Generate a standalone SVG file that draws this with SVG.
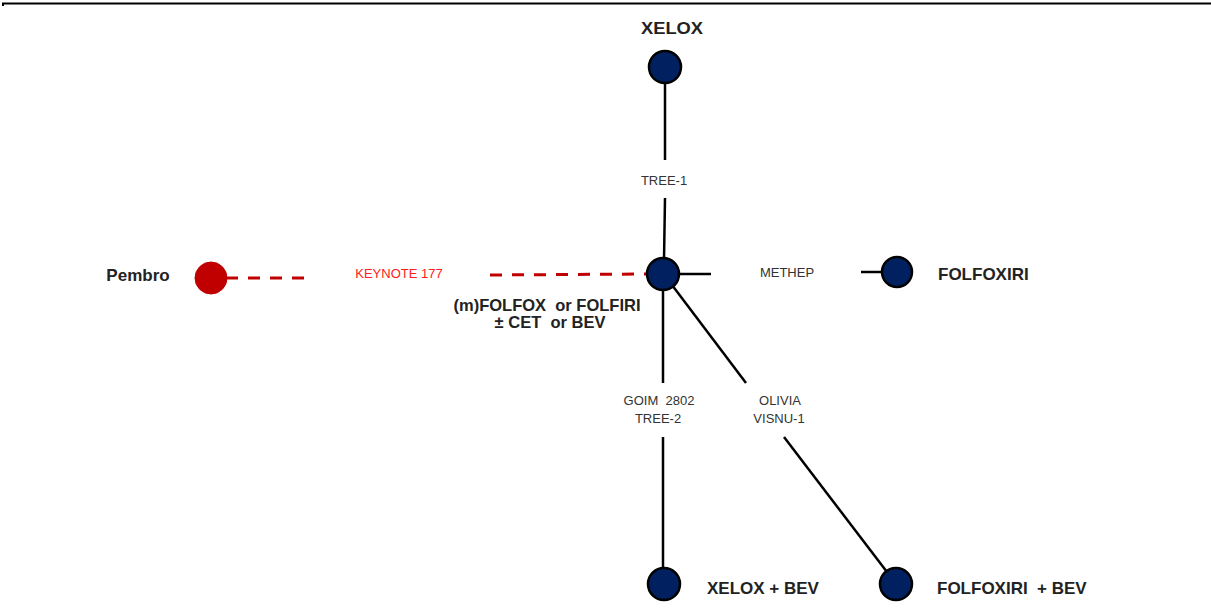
<svg xmlns="http://www.w3.org/2000/svg" width="1211" height="609" viewBox="0 0 1211 609" xml:space="preserve">
  <style>
    text { white-space: pre; }
    .node { fill: #002060; stroke: #000; stroke-width: 2.5; }
    .pem { fill: #C00000; stroke: #C00000; stroke-width: 1; }
    .edge { stroke: #000; stroke-width: 2.5; fill: none; }
    .red { stroke: #C00000; stroke-width: 3; fill: none; stroke-dasharray: 12 10; }
    .lbl { font-family: "Liberation Sans", Arial, sans-serif; font-size: 13px; fill: #333; text-anchor: middle; }
    .name { font-family: "Liberation Sans", Arial, sans-serif; font-size: 17px; font-weight: bold; fill: #222; }
  </style>
  <rect width="1211" height="609" fill="#fff"/>
  <line x1="2" y1="3.5" x2="1211" y2="3.5" stroke="#000" stroke-width="2"/>
  <line x1="3" y1="3" x2="3" y2="6" stroke="#000" stroke-width="2"/>

  <g id="connectors">
    <line class="edge" x1="665" y1="82" x2="665" y2="160"/>
    <line class="edge" x1="665" y1="198" x2="664" y2="260"/>
    <text class="lbl" x="664" y="185">TREE-1</text>

    <line class="edge" x1="677" y1="274" x2="711" y2="274"/>
    <line class="edge" x1="861" y1="272" x2="883" y2="272"/>
    <text class="lbl" x="787" y="277">METHEP</text>

    <line class="red" x1="226" y1="278" x2="304" y2="278"/>
    <line class="red" x1="490" y1="275" x2="648" y2="274"/>
    <text class="lbl" x="399" y="278" style="fill:#FF2020">KEYNOTE 177</text>

    <line class="edge" x1="663" y1="288" x2="663" y2="383"/>
    <line class="edge" x1="663" y1="437" x2="663" y2="570"/>
    <text class="lbl" x="659" y="405">GOIM  2802</text>
    <text class="lbl" x="658" y="423">TREE-2</text>

    <line class="edge" x1="672" y1="285" x2="746" y2="383"/>
    <line class="edge" x1="784" y1="437" x2="887" y2="572"/>
    <text class="lbl" x="780" y="405">OLIVIA</text>
    <text class="lbl" x="779" y="423">VISNU-1</text>
  </g>

  <g id="node-xelox">
    <circle class="node" cx="665" cy="67" r="16"/>
    <text class="name" x="672" y="34" text-anchor="middle" textLength="62" lengthAdjust="spacingAndGlyphs">XELOX</text>
  </g>
  <g id="node-chemo">
    <circle class="node" cx="663" cy="274" r="16"/>
    <text class="name" x="547" y="311" text-anchor="middle" style="font-size:16.5px">(m)FOLFOX  or FOLFIRI</text>
    <text class="name" x="550" y="328" text-anchor="middle" style="font-size:16.5px">± CET  or BEV</text>
  </g>
  <g id="node-pembro">
    <circle class="pem" cx="211" cy="278" r="16"/>
    <text class="name" x="138" y="281" text-anchor="middle">Pembro</text>
  </g>
  <g id="node-folfoxiri">
    <circle class="node" cx="897" cy="272" r="15"/>
    <text class="name" x="938" y="280">FOLFOXIRI</text>
  </g>
  <g id="node-xelox-bev">
    <circle class="node" cx="664" cy="584" r="16"/>
    <text class="name" x="707" y="594">XELOX + BEV</text>
  </g>
  <g id="node-folfoxiri-bev">
    <circle class="node" cx="896" cy="584" r="16"/>
    <text class="name" x="937" y="594">FOLFOXIRI  + BEV</text>
  </g>
</svg>
